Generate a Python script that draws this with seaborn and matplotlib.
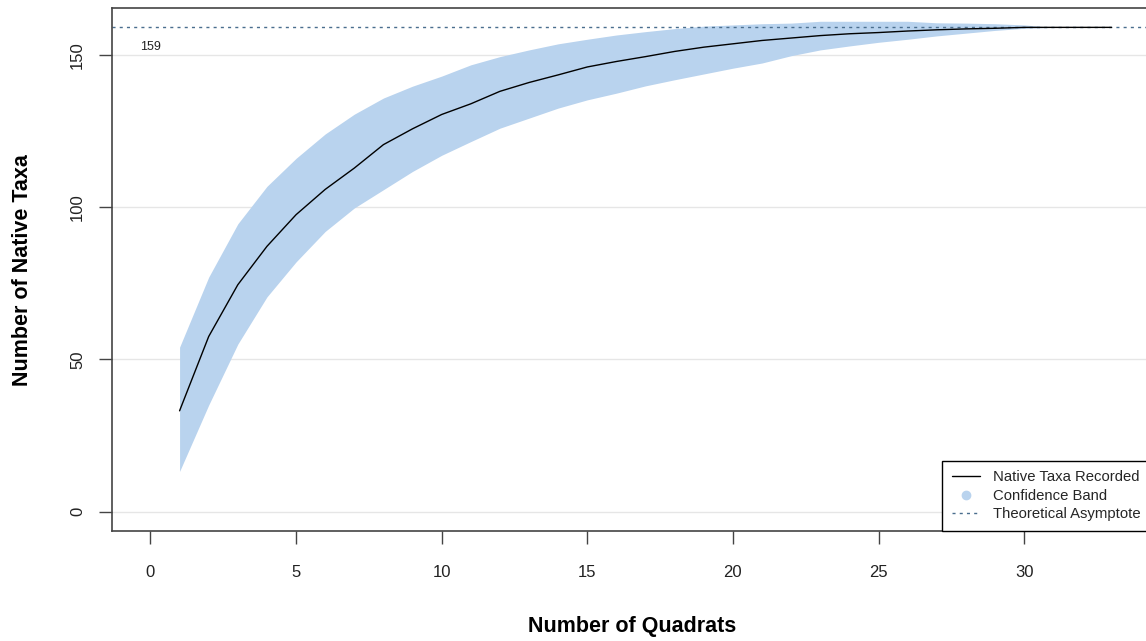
import numpy as np
import pandas as pd
import matplotlib
matplotlib.use("Agg")
import matplotlib.pyplot as plt
from matplotlib.lines import Line2D
import seaborn as sns

# accumulation curve
quadrats = list(range(1, 34))
native_taxa = [33.1, 57.5, 74.5, 87.1, 97.5, 105.8, 112.8, 120.5, 125.7, 130.4,
               133.9, 138.0, 140.9, 143.4, 146.0, 147.8, 149.4, 151.1, 152.5, 153.6,
               154.7, 155.5, 156.3, 156.9, 157.3, 157.8, 158.2, 158.5, 158.7, 159.0,
               159.0, 159.0, 159.0]
band_upper = [54.0, 77.0, 94.5, 106.8, 116.0, 124.0, 130.5, 135.8, 139.7, 143.0,
              146.7, 149.4, 151.6, 153.6, 155.1, 156.5, 157.6, 158.6, 159.4, 159.8,
              160.2, 160.4, 161.0, 161.0, 161.0, 161.0, 160.5, 160.4, 160.2, 159.8,
              159.0, 159.0, 159.0]
band_lower = [13.2, 35.0, 55.0, 70.5, 82.0, 92.0, 99.7, 105.7, 111.7, 117.0,
              121.5, 125.9, 129.2, 132.5, 135.2, 137.4, 139.8, 141.8, 143.7, 145.6,
              147.3, 149.7, 151.6, 152.9, 154.1, 155.1, 156.2, 157.1, 158.0, 158.7,
              159.0, 159.0, 159.0]
asymptote = 159

x_ticks = [0, 5, 10, 15, 20, 25, 30]
y_ticks = [0, 50, 100, 150]

band_col = "#B9D3EE"
asym_col = "#4A6E8E"
axis_col = "#444444"

sns.set_style("white")
plt.rcParams["font.family"] = ["Liberation Sans", "DejaVu Sans"]

df = pd.DataFrame({"quadrats": quadrats, "taxa": native_taxa,
                   "upper": band_upper, "lower": band_lower})

fig = plt.figure(figsize=(11.46, 6.41), dpi=100)
ax = fig.add_axes([112 / 1146, 110 / 641, 1038 / 1146, 523 / 641])

for yv in y_ticks:
    ax.axhline(yv, color="#E6E6E6", lw=1, zorder=0)

ax.fill_between(df["quadrats"], df["lower"], df["upper"], color=band_col,
                lw=0, zorder=1)
ax.axhline(asymptote, color=asym_col, lw=1, ls=(0, (2.2, 3)), zorder=2)
sns.lineplot(data=df, x="quadrats", y="taxa", color="black", lw=1,
             ax=ax, zorder=3)
ax.text(0, 152.7, str(asymptote), ha="center", va="center", fontsize=9,
        color="#222222")

ax.set_xlim(-1.32, 34.32)
ax.set_ylim(-6.36, 165.36)
ax.set_xticks(x_ticks)
ax.set_yticks(y_ticks)
ax.tick_params(axis="both", direction="out", length=9.5, width=1,
               color=axis_col, labelsize=12, labelcolor="#222222",
               bottom=True, left=True)
ax.tick_params(axis="x", pad=15)
ax.tick_params(axis="y", pad=10)
plt.setp(ax.get_yticklabels(), rotation=90, va="center")
for s in ax.spines.values():
    s.set_color(axis_col)
    s.set_linewidth(1.2)

ax.set_xlabel("Number of Quadrats", fontsize=15.5, fontweight="bold",
              color="black")
ax.set_ylabel("Number of Native Taxa", fontsize=15.5, fontweight="bold",
              color="black")
ax.xaxis.set_label_coords(0.501, -0.162)
ax.yaxis.set_label_coords(-0.076, 0.499)

handles = [
    Line2D([], [], color="black", lw=1),
    Line2D([], [], ls="none", marker="o", markersize=6, color=band_col),
    Line2D([], [], color=asym_col, lw=1, ls=(0, (2.2, 3))),
]
labels = ["Native Taxa Recorded", "Confidence Band", "Theoretical Asymptote"]
leg = ax.legend(handles, labels, loc="lower right", borderaxespad=0,
                fontsize=10.7, frameon=True, fancybox=False, framealpha=1,
                handlelength=1.9, handletextpad=0.85, labelspacing=0.3,
                borderpad=0.65)
leg.get_frame().set_edgecolor("black")
leg.get_frame().set_linewidth(1)

fig.savefig("out.png", dpi=100)
